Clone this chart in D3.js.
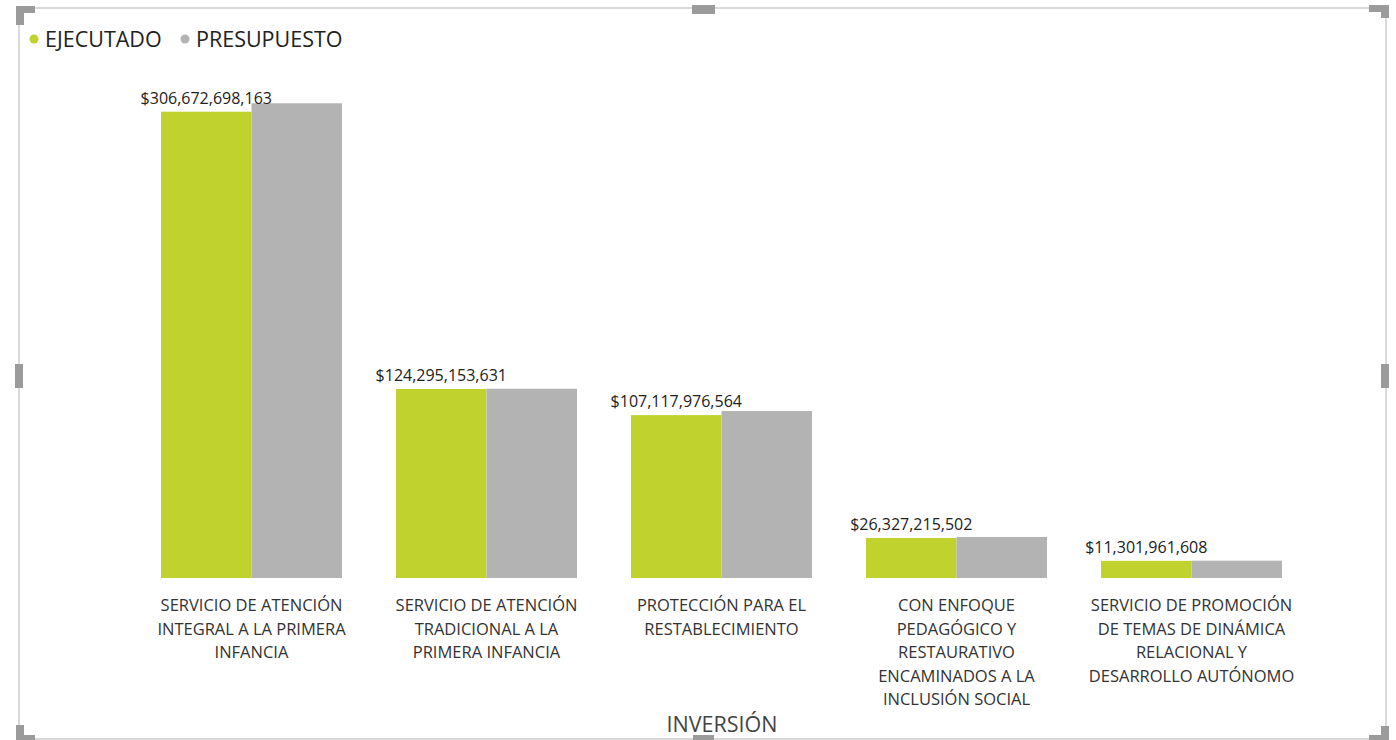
<!DOCTYPE html>
<html>
<head>
<meta charset="utf-8">
<script src="https://cdn.jsdelivr.net/npm/d3@7"></script>
<style>
  body { margin: 0; background: #fff; }
  svg { display: block; font-family: "Open Sans", "Noto Sans", sans-serif; }
</style>
</head>
<body>
<script>
// data
var categories = ["c1", "c2", "c3", "c4", "c5"];
var categoryLines = [
  ["SERVICIO DE ATENCIÓN", "INTEGRAL A LA PRIMERA", "INFANCIA"],
  ["SERVICIO DE ATENCIÓN", "TRADICIONAL A LA", "PRIMERA INFANCIA"],
  ["PROTECCIÓN PARA EL", "RESTABLECIMIENTO"],
  ["CON ENFOQUE", "PEDAGÓGICO Y", "RESTAURATIVO", "ENCAMINADOS A LA", "INCLUSIÓN SOCIAL"],
  ["SERVICIO DE PROMOCIÓN", "DE TEMAS DE DINÁMICA", "RELACIONAL Y", "DESARROLLO AUTÓNOMO"]
];
var seriesNames = ["EJECUTADO", "PRESUPUESTO"];
var ejecutado   = [306672698163, 124295153631, 107117976564, 26327215502, 11301961608];
var presupuesto = [312200000000, 124500000000, 109800000000, 27000000000, 11400000000];
var seriesColors = ["#C0D22E", "#B3B3B3"];
var axisTitle = "INVERSIÓN";

var W = 1396, H = 740;
var svg = d3.select("body").append("svg").attr("width", W).attr("height", H);

// frame of the visual (power bi style selection box)
var frame = svg.append("g");
frame.append("rect").attr("x", 19).attr("y", 8).attr("width", 1367).attr("height", 731)
  .attr("fill", "none").attr("stroke", "#d9d9d9").attr("stroke-width", 2);
var hc = "#9b9b9b";
function handle(x, y, w, h){ frame.append("rect").attr("x", x).attr("y", y).attr("width", w).attr("height", h).attr("fill", hc); }
// corners
handle(16, 6, 19, 7);  handle(16, 6, 8, 19);
handle(1369, 5, 20, 7); handle(1381, 5, 8, 13);
handle(16, 725, 8, 15); handle(16, 735, 19, 5);
handle(1381, 726, 8, 14); handle(1369, 735, 20, 5);
// middles
handle(692, 5, 23, 9);
handle(693, 735, 21, 5);
handle(15, 364, 8, 24);
handle(1381, 364, 8, 24);

// scales
var x = d3.scaleBand().domain(categories).range([134, 1309]).paddingInner(0.23).paddingOuter(0.115);
var xs = d3.scaleBand().domain(seriesNames).range([0, x.bandwidth()]);
var y = d3.scaleLinear().domain([0, ejecutado[0]]).range([578, 111.7]);

var rows = categories.map(function(c, i){
  return {cat: c, vals: [ejecutado[i], presupuesto[i]]};
});

var groups = svg.selectAll(".grp").data(rows).enter().append("g")
  .attr("class", "grp")
  .attr("transform", function(d){ return "translate(" + x(d.cat) + ",0)"; });

groups.selectAll("rect").data(function(d){
    return d.vals.map(function(v, j){ return {name: seriesNames[j], v: v, j: j}; });
  }).enter().append("rect")
  .attr("x", function(d){ return xs(d.name); })
  .attr("width", xs.bandwidth())
  .attr("y", function(d){ return y(d.v); })
  .attr("height", function(d){ return y(0) - y(d.v); })
  .attr("fill", function(d){ return seriesColors[d.j]; });

// data labels (only on executed)
var fmt = d3.format("$,.0f");
groups.append("text")
  .attr("x", xs("EJECUTADO") + xs.bandwidth() / 2)
  .attr("y", function(d){ return y(d.vals[0]) - 8; })
  .attr("text-anchor", "middle")
  .attr("font-size", 16)
  .attr("fill", "#222")
  .text(function(d){ return fmt(d.vals[0]); });

// category labels
groups.append("text")
  .attr("text-anchor", "middle")
  .attr("font-size", 16.5)
  .attr("fill", "#333")
  .each(function(d, i){
    var t = d3.select(this);
    categoryLines[i].forEach(function(l, k){
      t.append("tspan").attr("x", x.bandwidth() / 2).attr("y", 611 + k * 23.5).text(l);
    });
  });

// axis title
svg.append("text").attr("x", 722).attr("y", 732)
  .attr("text-anchor", "middle").attr("font-size", 21.5).attr("fill", "#444")
  .text(axisTitle);

// legend
var leg = svg.append("g");
var lx = [34, 185];
seriesNames.forEach(function(n, i){
  leg.append("circle").attr("cx", lx[i]).attr("cy", 39).attr("r", 4.5).attr("fill", seriesColors[i]);
  leg.append("text").attr("x", lx[i] + 11).attr("y", 47).attr("font-size", 21.5).attr("fill", "#222").text(n);
});
</script>
</body>
</html>
